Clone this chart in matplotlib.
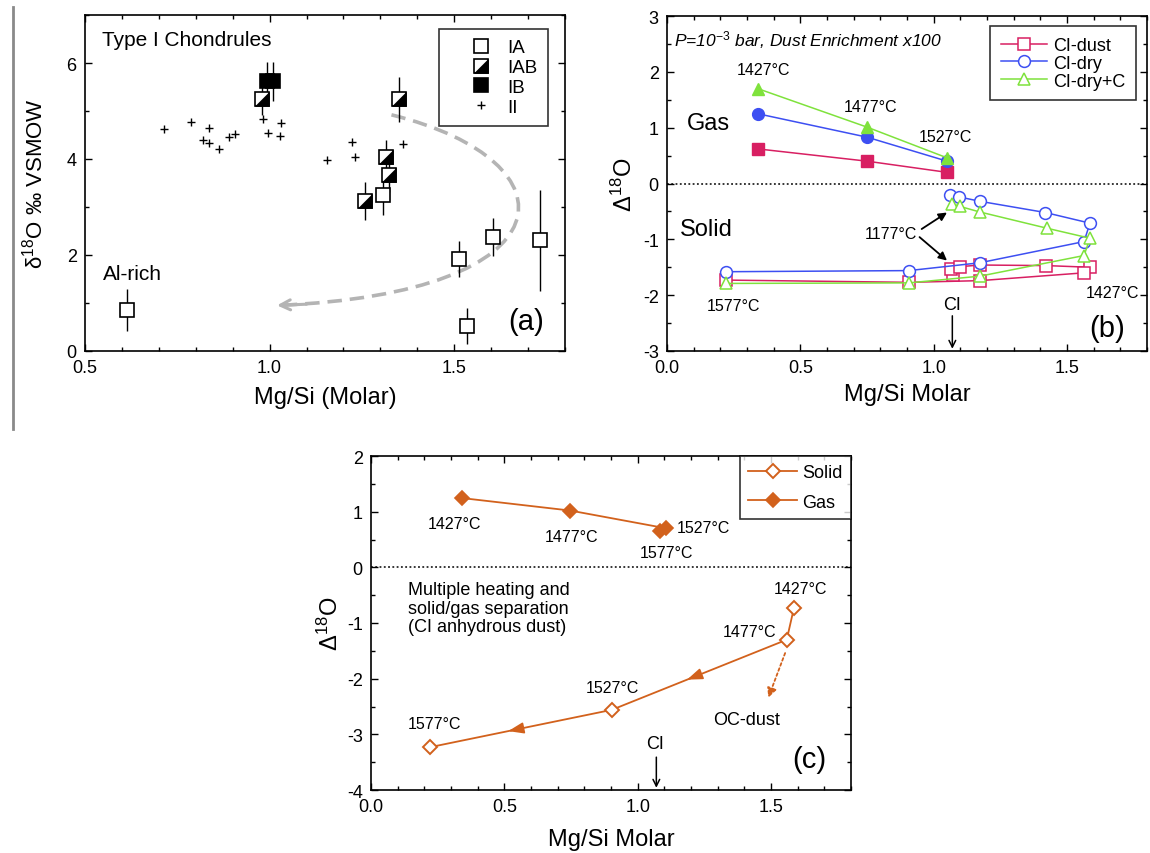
import matplotlib
matplotlib.use("Agg")
import numpy as np
import matplotlib.pyplot as plt
from matplotlib.path import Path
from matplotlib.patches import PathPatch
from matplotlib.lines import Line2D
from matplotlib.legend_handler import HandlerTuple
from matplotlib.ticker import MultipleLocator

plt.rcParams['font.family'] = ['Liberation Sans', 'DejaVu Sans']
plt.rcParams['mathtext.fontset'] = 'custom'
plt.rcParams['mathtext.rm'] = 'Liberation Sans'
plt.rcParams['mathtext.it'] = 'Liberation Sans:italic'
plt.rcParams['axes.unicode_minus'] = False

# ---------------- Panel (a) data ----------------
ia_x = [0.615, 1.308, 1.512, 1.604, 1.731, 1.534]
ia_y = [0.86, 3.26, 1.92, 2.38, 2.31, 0.52]
ia_err = [0.44, 0.42, 0.37, 0.40, 1.05, 0.37]
iab_x = [0.980, 1.351, 1.314, 1.322, 1.259]
iab_y = [5.26, 5.24, 4.05, 3.67, 3.13]
iab_err = [0.35, 0.47, 0.35, 0.35, 0.40]
ib_x = [0.993, 1.010]
ib_y = [5.62, 5.62]
ib_err = [0.41, 0.41]
ii_x = [0.714, 0.788, 0.835, 0.820, 0.836, 0.863, 0.890, 0.905,
        0.981, 1.031, 0.996, 1.028, 1.155, 1.223, 1.232, 1.360]
ii_y = [4.62, 4.78, 4.64, 4.39, 4.33, 4.21, 4.46, 4.53,
        4.84, 4.76, 4.55, 4.47, 3.97, 4.35, 4.04, 4.32]
a_trend_ctrl = [(1.33, 4.92), (1.84, 3.95), (1.82, 1.20), (1.02, 0.95)]

# ---------------- Panel (b) data ----------------
b_gas_x = [0.34, 0.75, 1.05]
b_dust_gas = [0.62, 0.40, 0.20]
b_dry_gas = [1.25, 0.83, 0.40]
b_dryc_gas = [1.70, 1.01, 0.46]
b_dust_solid_x = [1.072, 1.066, 1.098, 1.173, 1.420, 1.586, 1.564, 1.173, 0.907, 0.223]
b_dust_solid_y = [-1.64, -1.54, -1.49, -1.46, -1.47, -1.50, -1.60, -1.74, -1.77, -1.73]
b_dry_solid_x = [1.060, 1.095, 1.175, 1.419, 1.586, 1.564, 1.173, 0.907, 0.223]
b_dry_solid_y = [-0.21, -0.24, -0.32, -0.52, -0.71, -1.04, -1.42, -1.56, -1.58]
b_dryc_solid_x = [1.070, 1.098, 1.173, 1.424, 1.586, 1.564, 1.173, 0.907, 0.223]
b_dryc_solid_y = [-0.36, -0.41, -0.51, -0.80, -0.98, -1.29, -1.66, -1.78, -1.79]

# ---------------- Panel (c) data ----------------
c_gas_x = [0.34, 0.747, 1.108, 1.083]
c_gas_y = [1.245, 1.02, 0.70, 0.66]
c_solid_x = [1.586, 1.559, 0.903, 0.222]
c_solid_y = [-0.73, -1.30, -2.56, -3.23]

W, H = 1150, 854
fig = plt.figure(figsize=(W / 100, H / 100), dpi=100)


def box(l, t, r, b):
    return [l / W, 1 - b / H, (r - l) / W, (b - t) / H]


axa = fig.add_axes(box(85, 16, 565, 352))
axb = fig.add_axes(box(667, 17, 1147, 352))
axc = fig.add_axes(box(371, 457, 851, 791))

for ax in (axa, axb, axc):
    ax.tick_params(which='both', direction='in', top=True, right=True,
                   labelsize=13, pad=6, width=1)
    ax.tick_params(which='major', length=5)
    ax.tick_params(which='minor', length=3)
    for s in ax.spines.values():
        s.set_linewidth(1.2)

# ================= Panel (a) =================
axa.set_xlim(0.5, 1.8)
axa.set_ylim(0, 7)
axa.set_xticks([0.5, 1.0, 1.5])
axa.set_yticks([0, 2, 4, 6])
axa.xaxis.set_minor_locator(MultipleLocator(0.1))
axa.yaxis.set_minor_locator(MultipleLocator(1))

ms_sq = 9.5
for xs, ys, es in ((ia_x, ia_y, ia_err), (iab_x, iab_y, iab_err), (ib_x, ib_y, ib_err)):
    axa.errorbar(xs, ys, yerr=es, fmt='none', ecolor='black', elinewidth=1.0,
                 capsize=0, zorder=2)

tri = Path([(-1, -1), (1, -1), (1, 1), (-1, -1)],
           [Path.MOVETO, Path.LINETO, Path.LINETO, Path.CLOSEPOLY])

axa.plot(ia_x, ia_y, ls='none', marker='s', ms=ms_sq, mfc='white', mec='black',
         mew=1.2, zorder=3)
axa.plot(iab_x, iab_y, ls='none', marker='s', ms=ms_sq, mfc='white', mec='black',
         mew=1.2, zorder=3)
axa.plot(iab_x, iab_y, ls='none', marker=tri, ms=ms_sq, mfc='black', mec='black',
         mew=0.5, zorder=3.5)
axa.plot(ib_x, ib_y, ls='none', marker='s', ms=ms_sq, mfc='black', mec='black',
         mew=1.2, zorder=4)
axa.plot(ii_x, ii_y, ls='none', marker='+', ms=6, mec='black', mew=1.0, zorder=3)

# gray dashed trend arrow
verts = a_trend_ctrl
pth = Path(verts, [Path.MOVETO, Path.CURVE4, Path.CURVE4, Path.CURVE4])
axa.add_patch(PathPatch(pth, fill=False, edgecolor='#b4b4b4', lw=2.6,
                        ls=(0, (4, 2.2)), zorder=1.5))
p2, p3 = np.array(verts[2]), np.array(verts[3])
tail = p3 + 0.10 * (p2 - p3)
axa.annotate('', xy=tuple(p3), xytext=tuple(tail),
             arrowprops=dict(arrowstyle='->', color='#b4b4b4', lw=2.2,
                             mutation_scale=18, shrinkA=0, shrinkB=0), zorder=1.5)

axa.text(0.547, 6.49, 'Type I Chondrules', fontsize=15, ha='left', va='center')
axa.text(0.549, 1.61, 'Al-rich', fontsize=15, ha='left', va='center')
axa.text(1.696, 0.63, '(a)', fontsize=21, ha='center', va='center')

h_ia = Line2D([], [], ls='none', marker='s', ms=ms_sq, mfc='white', mec='black', mew=1.2)
h_iab_sq = Line2D([], [], ls='none', marker='s', ms=ms_sq, mfc='white', mec='black', mew=1.2)
h_iab_tri = Line2D([], [], ls='none', marker=tri, ms=ms_sq, mfc='black', mec='black', mew=0.5)
h_ib = Line2D([], [], ls='none', marker='s', ms=ms_sq, mfc='black', mec='black', mew=1.2)
h_ii = Line2D([], [], ls='none', marker='+', ms=6, mec='black', mew=1.0)
leg = axa.legend([h_ia, (h_iab_sq, h_iab_tri), h_ib, h_ii], ['IA', 'IAB', 'IB', 'II'],
                 handler_map={tuple: HandlerTuple(ndivide=1, pad=0)},
                 loc='upper right', bbox_to_anchor=((548 - 85) / 480, (352 - 30) / 336),
                 borderaxespad=0, fontsize=13.5, frameon=True, fancybox=False,
                 edgecolor='black', handlelength=3.4, handletextpad=-0.3,
                 labelspacing=0.14, borderpad=0.55, numpoints=1)
leg.get_frame().set_linewidth(1.2)

axa.set_xlabel('Mg/Si (Molar)', fontsize=17)
axa.set_ylabel('δ$^{18}$O ‰ VSMOW', fontsize=16)
axa.xaxis.label.set_va('center')
axa.yaxis.label.set_va('center')
axa.xaxis.set_label_coords(0.5, -46 / 336)
axa.yaxis.set_label_coords(-(85 - 35) / 480, 0.5)

# ================= Panel (b) =================
pink = '#d81f62'
blue = '#3d4ff2'
green = '#7fe23c'

axb.set_xlim(0, 1.8)
axb.set_ylim(-3, 3)
axb.set_xticks([0.0, 0.5, 1.0, 1.5])
axb.set_yticks([-3, -2, -1, 0, 1, 2, 3])
axb.xaxis.set_minor_locator(MultipleLocator(0.1))
axb.yaxis.set_minor_locator(MultipleLocator(0.5))
axb.axhline(0, color='black', lw=1.1, ls=(0, (1.2, 1.6)), zorder=1)

msb = 8
lwb = 1.1
axb.plot(b_gas_x, b_dust_gas, color=pink, lw=lwb, marker='s', ms=msb, mfc=pink, mec=pink, zorder=3)
axb.plot(b_gas_x, b_dry_gas, color=blue, lw=lwb, marker='o', ms=msb + 0.5, mfc=blue, mec=blue, zorder=3)
axb.plot(b_gas_x, b_dryc_gas, color=green, lw=lwb, marker='^', ms=msb + 0.5, mfc=green, mec=green, zorder=3)
axb.plot(b_dust_solid_x, b_dust_solid_y, color=pink, lw=lwb, marker='s', ms=msb,
         mfc='white', mec=pink, mew=1.1, zorder=3, label='CI-dust')
axb.plot(b_dry_solid_x, b_dry_solid_y, color=blue, lw=lwb, marker='o', ms=msb + 0.5,
         mfc='white', mec=blue, mew=1.1, zorder=3, label='CI-dry')
axb.plot(b_dryc_solid_x, b_dryc_solid_y, color=green, lw=lwb, marker='^', ms=msb + 0.5,
         mfc='white', mec=green, mew=1.1, zorder=3, label='CI-dry+C')

legb = axb.legend(loc='upper right', bbox_to_anchor=((1136 - 667) / 480, (352 - 27) / 335),
                  borderaxespad=0, fontsize=13, fancybox=False, edgecolor='black',
                  handlelength=2.6, handletextpad=0.3, labelspacing=0.05,
                  borderpad=0.6, numpoints=1)
legb.get_frame().set_linewidth(1.2)

axb.text(0.028, 2.59, 'P=10$^{\\mathit{-3}}$ bar, Dust Enrichment x100', fontsize=12.5,
         style='italic', ha='left', va='center')
tfs = 11.5
axb.text(0.36, 2.05, '1427°C', fontsize=tfs, ha='center', va='center')
axb.text(0.763, 1.38, '1477°C', fontsize=tfs, ha='center', va='center')
axb.text(1.043, 0.85, '1527°C', fontsize=tfs, ha='center', va='center')
axb.text(0.154, 1.08, 'Gas', fontsize=17, ha='center', va='center')
axb.text(0.147, -0.82, 'Solid', fontsize=17, ha='center', va='center')
axb.text(0.84, -0.90, '1177°C', fontsize=tfs, ha='center', va='center')
axb.text(0.25, -2.18, '1577°C', fontsize=tfs, ha='center', va='center')
axb.text(1.672, -1.95, '1427°C', fontsize=tfs, ha='center', va='center')
axb.text(1.07, -2.16, 'CI', fontsize=13, ha='center', va='center')
axb.text(1.65, -2.58, '(b)', fontsize=21, ha='center', va='center')
axb.annotate('', xy=(1.05, -0.52), xytext=(0.955, -0.815),
             arrowprops=dict(arrowstyle='-|>', color='black', lw=1.3,
                             mutation_scale=12, shrinkA=0, shrinkB=0))
axb.annotate('', xy=(1.05, -1.38), xytext=(0.947, -0.96),
             arrowprops=dict(arrowstyle='-|>', color='black', lw=1.3,
                             mutation_scale=12, shrinkA=0, shrinkB=0))
axb.annotate('', xy=(1.07, -2.96), xytext=(1.07, -2.37),
             arrowprops=dict(arrowstyle='->', color='black', lw=1.1,
                             mutation_scale=12, shrinkA=0, shrinkB=0))

axb.set_xlabel('Mg/Si Molar', fontsize=17)
axb.set_ylabel('Δ$^{18}$O', fontsize=17)
axb.xaxis.label.set_va('center')
axb.yaxis.label.set_va('center')
axb.xaxis.set_label_coords(0.5, -43 / 335)
axb.yaxis.set_label_coords(-(667 - 624) / 480, 0.5)

# ================= Panel (c) =================
orange = '#d2611c'
axc.set_xlim(0, 1.8)
axc.set_ylim(-4, 2)
axc.set_xticks([0.0, 0.5, 1.0, 1.5])
axc.set_yticks([-4, -3, -2, -1, 0, 1, 2])
axc.xaxis.set_minor_locator(MultipleLocator(0.1))
axc.yaxis.set_minor_locator(MultipleLocator(0.5))
axc.axhline(0, color='black', lw=1.1, ls=(0, (1.2, 1.6)), zorder=1)

msc = 7.6
axc.plot(c_solid_x, c_solid_y, color=orange, lw=1.3, marker='D', ms=msc,
         mfc='white', mec=orange, mew=1.4, zorder=3, label='Solid')
axc.plot(c_gas_x, c_gas_y, color=orange, lw=1.3, marker='D', ms=msc,
         mfc=orange, mec=orange, mew=1.2, zorder=3, label='Gas')

# arrowheads along the solid path
for i in (1, 2):
    x0, y0 = c_solid_x[i], c_solid_y[i]
    x1, y1 = c_solid_x[i + 1], c_solid_y[i + 1]
    th, tt = 0.57, 0.50
    axc.annotate('', xy=(x0 + th * (x1 - x0), y0 + th * (y1 - y0)),
                 xytext=(x0 + tt * (x1 - x0), y0 + tt * (y1 - y0)),
                 arrowprops=dict(arrowstyle='-|>,head_length=0.55,head_width=0.2',
                                 color=orange, lw=1.2,
                                 mutation_scale=17, shrinkA=0, shrinkB=0), zorder=2)
axc.annotate('', xy=(1.49, -2.34), xytext=(1.553, -1.54),
             arrowprops=dict(arrowstyle='-|>', color=orange, lw=1.3, ls=(0, (1.5, 1.5)),
                             mutation_scale=14, shrinkA=0, shrinkB=0))

axc.text(0.312, 0.79, '1427°C', fontsize=tfs, ha='center', va='center')
axc.text(0.751, 0.56, '1477°C', fontsize=tfs, ha='center', va='center')
axc.text(1.145, 0.71, '1527°C', fontsize=tfs, ha='left', va='center')
axc.text(1.108, 0.27, '1577°C', fontsize=tfs, ha='center', va='center')
axc.text(1.609, -0.38, '1427°C', fontsize=tfs, ha='center', va='center')
axc.text(1.421, -1.15, '1477°C', fontsize=tfs, ha='center', va='center')
axc.text(0.904, -2.16, '1527°C', fontsize=tfs, ha='center', va='center')
axc.text(0.237, -2.81, '1577°C', fontsize=tfs, ha='center', va='center')
axc.text(1.41, -2.74, 'OC-dust', fontsize=13, ha='center', va='center')
axc.text(0.137, -0.25, 'Multiple heating and\nsolid/gas separation\n(CI anhydrous dust)',
         fontsize=13, ha='left', va='top', linespacing=1.1)
axc.text(1.064, -3.17, 'CI', fontsize=13, ha='center', va='center')
axc.annotate('', xy=(1.07, -3.96), xytext=(1.07, -3.41),
             arrowprops=dict(arrowstyle='->', color='black', lw=1.1,
                             mutation_scale=12, shrinkA=0, shrinkB=0))
axc.text(1.643, -3.44, '(c)', fontsize=21, ha='center', va='center')

legc = axc.legend(loc='upper right', borderaxespad=0, fontsize=13, fancybox=False,
                  edgecolor='black', handlelength=2.7, handletextpad=0.3,
                  labelspacing=0.7, borderpad=0.45, numpoints=1)
legc.get_frame().set_linewidth(1.2)

axc.set_xlabel('Mg/Si Molar', fontsize=17)
axc.set_ylabel('Δ$^{18}$O', fontsize=17)
axc.xaxis.label.set_va('center')
axc.yaxis.label.set_va('center')
axc.xaxis.set_label_coords(0.5, -49 / 334)
axc.yaxis.set_label_coords(-(371 - 330) / 480, 0.5)

# thin gray rule at far left
fig.add_artist(Line2D([12.5 / W, 12.5 / W], [1 - 8 / H, 1 - 430 / H],
                      color='#8a8a8a', lw=2))

fig.savefig('out.png', dpi=100)
